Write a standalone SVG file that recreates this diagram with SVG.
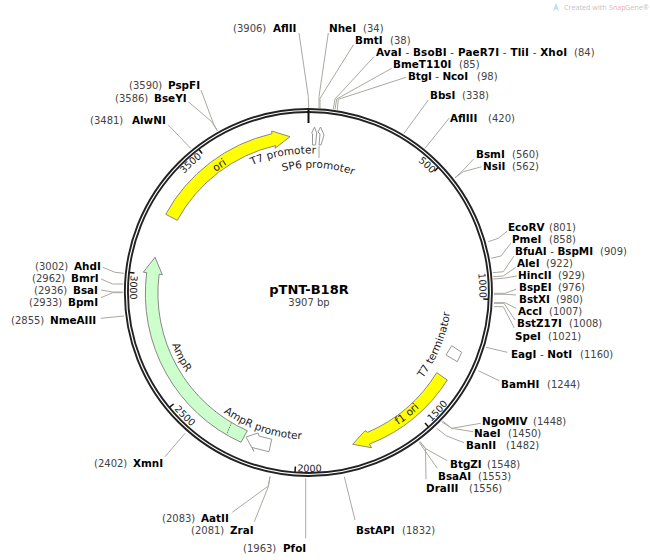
<svg xmlns="http://www.w3.org/2000/svg" width="650" height="560" viewBox="0 0 650 560">
<style>
text{font-family:"DejaVu Sans","Verdana",sans-serif;font-size:10px;fill:#222}
.n{font-weight:bold;fill:#000;font-size:10.4px}
.d{font-weight:normal;fill:#444}
.p{fill:#444}
.l{font-size:10.5px}
.k{font-size:9.7px}
.g{font-size:7.2px;font-family:"Open Sans",sans-serif;fill:#888}
.c{fill:none;stroke:#aaa8a0;stroke-width:1}
.f{stroke:#888;stroke-width:1}
.o{fill:#fff;stroke:#999;stroke-width:1}
.t{fill:none;stroke:#111;stroke-width:1.5}
</style>
<defs>
<path id="a-t7p" d="M 238.9 172.1 A 139 139 0 0 1 315.7 153.7"/>
<path id="a-sp6" d="M 282.6 171.2 A 124 124 0 0 1 358.8 177.2"/>
<path id="a-ori" d="M 176.8 216.5 A 152 152 0 0 1 282 142.8"/>
<path id="a-ampr" d="M 162.4 292.5 A 146 146 0 0 0 222.6 410.6"/>
<path id="a-amprp" d="M 195.8 387 A 147 147 0 0 0 339 436.3"/>
<path id="a-f1" d="M 349.8 447 A 160 160 0 0 0 451 365.1"/>
<path id="a-t7t" d="M 400.3 402 A 143 143 0 0 0 450.9 280"/>
<path id="a-500" d="M 352.7 127.3 A 171 171 0 0 1 431.6 173.8"/>
<path id="a-1000" d="M 456.5 207 A 171 171 0 0 1 479.3 297.9"/>
<path id="a-1500" d="M 431.3 422 A 178.5 178.5 0 0 0 476.1 353.5"/>
<path id="a-2000" d="M 297.2 471.5 A 179.5 179.5 0 0 0 398.2 448"/>
<path id="a-2500" d="M 174.1 409.3 A 178 178 0 0 0 277.5 467.8"/>
<path id="a-3000" d="M 130.8 275 A 178.5 178.5 0 0 0 153.8 381.8"/>
<path id="a-3500" d="M 147.7 234 A 172 172 0 0 1 202.1 157.3"/>
</defs>
<g id="connectors">
<polyline class="c" points="299,33 308.3,96.7 308.7,108"/>
<polyline class="c" points="328.3,33 319,96.7 319,108.3"/>
<polyline class="c" points="353.3,45 320,98.3 320,108.5"/>
<polyline class="c" points="374,56.7 335,99 333.3,109.3"/>
<polyline class="c" points="391.7,68.3 336.7,99 335,109.5"/>
<polyline class="c" points="406,77.3 338.3,99.3 337.3,110"/>
<polyline class="c" points="428.3,100 404,133.3"/>
<polyline class="c" points="449.3,118 425,148.3"/>
<polyline class="c" points="473.3,159.3 461.7,171.7 455,177.7"/>
<polyline class="c" points="481.7,166.7 463.3,171.7 455,177.7"/>
<polyline class="c" points="507.3,231 498.3,238.3 488.3,241.7"/>
<polyline class="c" points="510.7,243.3 501,256 491,258.3"/>
<polyline class="c" points="514,256 503.3,271.7 492.7,272.7"/>
<polyline class="c" points="515.7,267.3 503.3,276 493.3,276.7"/>
<polyline class="c" points="516.7,276 503.3,278.3 493.3,279"/>
<polyline class="c" points="516,289.3 505,293.3 494,293.3"/>
<polyline class="c" points="516,295 505,294.3 494,294.3"/>
<polyline class="c" points="516,308.3 505,302.7 494,302.7"/>
<polyline class="c" points="515,320 504,303.3 494,303.3"/>
<polyline class="c" points="514.3,328 503.3,306.7 494,306.7"/>
<polyline class="c" points="507.3,352.3 486,347.3"/>
<polyline class="c" points="499.3,380.7 478.3,370.7"/>
<polyline class="c" points="480.7,423.3 451.7,428.3 442.7,421"/>
<polyline class="c" points="473.3,431.7 451.7,428.3 441.7,421.7"/>
<polyline class="c" points="464,442.7 446.7,436 436.7,428.3"/>
<polyline class="c" points="447.3,460.7 425,448.3 420,441.7"/>
<polyline class="c" points="437.3,468.3 423.3,448.3 419.3,442.3"/>
<polyline class="c" points="426,479.3 425.5,448.3 420,441.7"/>
<polyline class="c" points="355,520 344.3,476.7"/>
<polyline class="c" points="305.7,538.3 305.7,478.3"/>
<polyline class="c" points="254.3,521.7 268.3,486.7 270,476.7"/>
<polyline class="c" points="232.3,512.3 268.3,486 270,476.7"/>
<polyline class="c" points="165,456.7 185,433.3"/>
<polyline class="c" points="100.7,318.3 124,316"/>
<polyline class="c" points="101,297.7 112.7,292.7 122.7,292.7"/>
<polyline class="c" points="101,290 112.7,292 122.7,292"/>
<polyline class="c" points="101,279 112.7,284 123.3,284"/>
<polyline class="c" points="102.7,267.3 115,272.3 124,273.3"/>
<polyline class="c" points="168.3,125 190.7,148.3"/>
<polyline class="c" points="188.3,101.7 211.7,121.7 217.3,130.7"/>
<polyline class="c" points="201,90 213.3,123.3 217.3,130.7"/>
<polyline class="c" points="319,146 319,158"/>
</g>
<g id="ring">
<circle cx="308.4" cy="292.5" r="182" fill="none" stroke="#222" stroke-width="5"/>
<circle cx="308.4" cy="292.5" r="182" fill="none" stroke="#fff" stroke-width="1.2"/>
<line x1="308.5" y1="110" x2="308.5" y2="123" stroke="#111" stroke-width="2"/>
<line class="t" x1="438" y1="167.6" x2="434.5" y2="171.3"/>
<line class="t" x1="488.3" y1="299.2" x2="483.3" y2="299"/>
<line class="t" x1="428.4" y1="426.7" x2="425" y2="423"/>
<line class="t" x1="295" y1="472" x2="295.4" y2="466.5"/>
<line class="t" x1="169.7" y1="407.2" x2="173.6" y2="404"/>
<line class="t" x1="129.5" y1="272.4" x2="134.5" y2="273"/>
<line class="t" x1="199.1" y1="149.5" x2="202.1" y2="153.5"/>
</g>
<g id="ticks">
<text class="k"><textPath href="#a-500" startOffset="100%" text-anchor="end">500</textPath></text>
<text class="k"><textPath href="#a-1000" startOffset="100%" text-anchor="end">1000</textPath></text>
<text class="k"><textPath href="#a-1500" startOffset="0">1500</textPath></text>
<text class="k"><textPath href="#a-2000" startOffset="0">2000</textPath></text>
<text class="k"><textPath href="#a-2500" startOffset="0">2500</textPath></text>
<text class="k"><textPath href="#a-3000" startOffset="0">3000</textPath></text>
<text class="k"><textPath href="#a-3500" startOffset="100%" text-anchor="end">3500</textPath></text>
</g>
<g id="ori">
<path class="f" fill="#ffff00" d="M165.7 214.3 A163 163 0 0 1 271.9 133.7 L271.7 131 L290 136.7 L275 148.3 L275.6 145.6 A150.5 150.5 0 0 0 177.3 220.3 Z"/>
<text class="l"><textPath href="#a-ori" startOffset="50%" text-anchor="middle">ori</textPath></text>
</g>
<g id="AmpR">
<path class="f" fill="#ccffcc" d="M241 442.3 A163.5 163.5 0 0 1 146.7 272.6 L143.3 272.2 L155 257.3 L162.3 274.7 L159.1 274.2 A150.5 150.5 0 0 0 247.3 430.7 Z"/>
<line x1="231.7" y1="422.3" x2="226.7" y2="434.3" stroke="#777" stroke-dasharray="1.5 1"/>
<text class="l"><textPath href="#a-ampr" startOffset="50%" text-anchor="middle">AmpR</textPath></text>
</g>
<g id="AmpR-promoter">
<polygon class="o" points="246,437 258,433 259,436 271.7,439.3 269,451.7 252,447.5 254,451.5"/>
<text class="l"><textPath href="#a-amprp" startOffset="50%" text-anchor="middle">AmpR promoter</textPath></text>
</g>
<g id="f1-ori">
<path class="f" fill="#ffff00" d="M447.3 380 A163.5 163.5 0 0 1 369.3 444.2 L371.7 447.7 L352.7 444.3 L365 430.7 L367.7 432.3 A151.5 151.5 0 0 0 436.7 372.7 Z"/>
<text class="l"><textPath href="#a-f1" startOffset="50%" text-anchor="middle">f1 ori</textPath></text>
</g>
<g id="T7-terminator">
<polygon class="o" points="451.7,345.7 461.7,352.3 457.3,361.7 446,355"/>
<text class="l"><textPath href="#a-t7t" startOffset="50%" text-anchor="middle">T7 terminator</textPath></text>
</g>
<g id="T7-promoter">
<polygon class="o" points="314.5,127 316.7,133 315.5,145 312.5,145 312.5,134 311.7,133"/>
<text class="l"><textPath href="#a-t7p" startOffset="100%" text-anchor="end">T7 promoter</textPath></text>
</g>
<g id="SP6-promoter">
<polygon class="o" points="320.5,127 324,135 321,145 319,145 320,134 318,132"/>
<text class="l"><textPath href="#a-sp6" startOffset="0">SP6 promoter</textPath></text>
</g>
<g id="title">
<text x="309" y="294" text-anchor="middle" style="font-size:13px;font-weight:bold;fill:#000">pTNT-B18R</text>
<text x="309" y="306" text-anchor="middle" class="p">3907 bp</text>
</g>
<g id="sites">
<text x="233" y="32" class="p">(3906)</text><text x="273" y="32" class="n">AflII</text>
<text x="329" y="32" class="n">NheI</text><text x="363" y="32" class="p">(34)</text>
<text x="355" y="44" class="n">BmtI</text><text x="390" y="44" class="p">(38)</text>
<text x="376" y="56" class="n" textLength="191">AvaI <tspan class="d">-</tspan> BsoBI <tspan class="d">-</tspan> PaeR7I <tspan class="d">-</tspan> TliI <tspan class="d">-</tspan> XhoI</text><text x="574" y="56" class="p">(84)</text>
<text x="393" y="68" class="n">BmeT110I</text><text x="459" y="68" class="p">(85)</text>
<text x="408" y="80" class="n" textLength="60">BtgI <tspan class="d">-</tspan> NcoI</text><text x="477" y="80" class="p">(98)</text>
<text x="430" y="99" class="n">BbsI</text><text x="462" y="99" class="p">(338)</text>
<text x="450" y="122" class="n">AflIII</text><text x="488" y="122" class="p">(420)</text>
<text x="476" y="158" class="n">BsmI</text><text x="512" y="158" class="p">(560)</text>
<text x="483" y="170" class="n">NsiI</text><text x="512" y="170" class="p">(562)</text>
<text x="508" y="231" class="n">EcoRV</text><text x="549" y="231" class="p">(801)</text>
<text x="512" y="243" class="n">PmeI</text><text x="549" y="243" class="p">(858)</text>
<text x="515" y="255" class="n" textLength="78">BfuAI <tspan class="d">-</tspan> BspMI</text><text x="600" y="255" class="p">(909)</text>
<text x="517" y="267" class="n">AleI</text><text x="546" y="267" class="p">(922)</text>
<text x="518" y="279" class="n">HincII</text><text x="558" y="279" class="p">(929)</text>
<text x="519" y="291" class="n">BspEI</text><text x="558" y="291" class="p">(976)</text>
<text x="519" y="303" class="n">BstXI</text><text x="556" y="303" class="p">(980)</text>
<text x="518" y="315" class="n">AccI</text><text x="549" y="315" class="p">(1007)</text>
<text x="517" y="327" class="n">BstZ17I</text><text x="569" y="327" class="p">(1008)</text>
<text x="515" y="340" class="n">SpeI</text><text x="548" y="340" class="p">(1021)</text>
<text x="511" y="358" class="n" textLength="61">EagI <tspan class="d">-</tspan> NotI</text><text x="580" y="358" class="p">(1160)</text>
<text x="501" y="388" class="n">BamHI</text><text x="547" y="388" class="p">(1244)</text>
<text x="482" y="425" class="n">NgoMIV</text><text x="533" y="425" class="p">(1448)</text>
<text x="474" y="437" class="n">NaeI</text><text x="508" y="437" class="p">(1450)</text>
<text x="466" y="449" class="n">BanII</text><text x="506" y="449" class="p">(1482)</text>
<text x="450" y="468" class="n">BtgZI</text><text x="487" y="468" class="p">(1548)</text>
<text x="438" y="480" class="n">BsaAI</text><text x="478" y="480" class="p">(1553)</text>
<text x="426" y="492" class="n">DraIII</text><text x="469" y="492" class="p">(1556)</text>
<text x="356" y="534" class="n">BstAPI</text><text x="402" y="534" class="p">(1832)</text>
<text x="243" y="552" class="p">(1963)</text><text x="283" y="552" class="n">PfoI</text>
<text x="191" y="534" class="p">(2081)</text><text x="230" y="534" class="n">ZraI</text>
<text x="162" y="522" class="p">(2083)</text><text x="201" y="522" class="n">AatII</text>
<text x="94" y="467" class="p">(2402)</text><text x="133" y="467" class="n">XmnI</text>
<text x="11" y="324" class="p">(2855)</text><text x="50" y="324" class="n">NmeAIII</text>
<text x="29" y="306" class="p">(2933)</text><text x="68" y="306" class="n">BpmI</text>
<text x="34" y="294" class="p">(2936)</text><text x="73" y="294" class="n">BsaI</text>
<text x="32" y="282" class="p">(2962)</text><text x="71" y="282" class="n">BmrI</text>
<text x="35" y="270" class="p">(3002)</text><text x="74" y="270" class="n">AhdI</text>
<text x="90" y="124" class="p">(3481)</text><text x="132" y="124" class="n">AlwNI</text>
<text x="115" y="102" class="p">(3586)</text><text x="154" y="102" class="n">BseYI</text>
<text x="129" y="89" class="p">(3590)</text><text x="168" y="89" class="n">PspFI</text>
</g>
<g id="logo" opacity="0.5">
<path d="M553 11 L556 3 L559 11 L556 9 Z" fill="#6cc5ee"/>
<text x="564" y="10" class="g">Created with</text>
<text x="609" y="10" class="g" style="fill:#e8604c">Snap</text>
<text x="625" y="10" class="g">Gene®</text>
</g>
</svg>
